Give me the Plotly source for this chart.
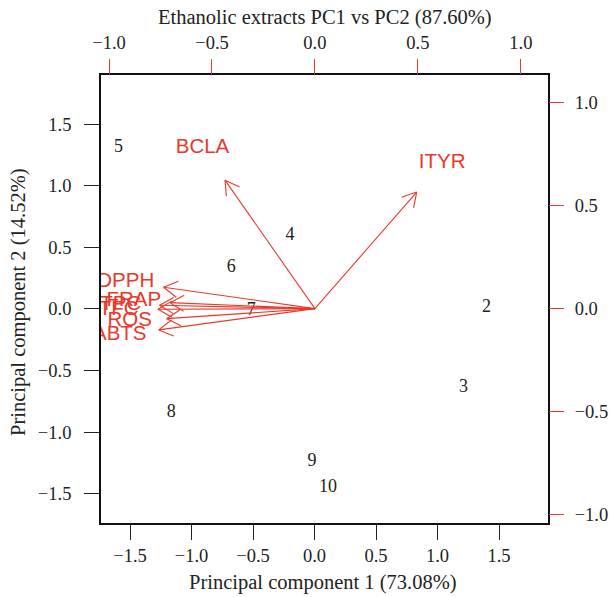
import numpy as np
import plotly.graph_objects as go

# ---- data ----
samples = ["2", "3", "4", "5", "6", "7", "8", "9", "10"]
pc1_scores = [1.399, 1.212, -0.199, -1.594, -0.677, -0.515, -1.164, -0.020, 0.109]
pc2_scores = [0.012, -0.637, 0.596, 1.310, 0.337, -0.012, -0.839, -1.237, -1.448]

variables = ["BCLA", "ITYR", "DPPH", "FRAP", "TPC", "TFC", "ROS", "ABTS"]
load_pc1 = [-0.546, 0.618, -0.919, -0.880, -0.943, -0.953, -0.900, -0.948]
load_pc2 = [0.778, 0.706, 0.129, 0.036, 0.020, -0.004, -0.061, -0.129]

score_ticks = [-1.5, -1.0, -0.5, 0.0, 0.5, 1.0, 1.5]
load_ticks = [-1.0, -0.5, 0.0, 0.5, 1.0]

title_text = "Ethanolic extracts PC1 vs PC2 (87.60%)"
xtitle_text = "Principal component 1 (73.08%)"
ytitle_text = "Principal component 2 (14.52%)"

# ---- style ----
RED = "#E8392A"
SERIF = "Liberation Serif, Times New Roman, serif"
SANS = "Liberation Sans, Arial, sans-serif"
score_range = [-1.736, 1.898]
load_range = [-1.039, 1.132]

# arrows: shaft to 0.8*loading, label at loading (R biplot convention)
shaft_x, shaft_y = [], []
head_len = 0.078
ang = np.deg2rad(30)
for lx, ly in zip(load_pc1, load_pc2):
    tx, ty = 0.8 * lx, 0.8 * ly
    shaft_x += [0, tx, None]
    shaft_y += [0, ty, None]
    n = np.hypot(tx, ty)
    bx, by = -tx / n, -ty / n
    for s in (1, -1):
        c, sn = np.cos(s * ang), np.sin(s * ang)
        rx = bx * c - by * sn
        ry = bx * sn + by * c
        shaft_x += [tx, tx + head_len * rx, None]
        shaft_y += [ty, ty + head_len * ry, None]

fig = go.Figure()

fig.add_trace(go.Scatter(
    x=pc1_scores, y=pc2_scores, mode="text", text=samples,
    textposition="middle center",
    textfont=dict(family=SERIF, size=18, color="#222222"),
    xaxis="x", yaxis="y", hoverinfo="skip", showlegend=False,
))

fig.add_trace(go.Scatter(
    x=shaft_x, y=shaft_y, mode="lines",
    line=dict(color=RED, width=1.1),
    xaxis="x2", yaxis="y2", hoverinfo="skip", showlegend=False,
))

fig.add_trace(go.Scatter(
    x=load_pc1, y=load_pc2, mode="text", text=variables,
    textposition="middle center",
    textfont=dict(family=SANS, size=20.5, color=RED),
    xaxis="x2", yaxis="y2", hoverinfo="skip", showlegend=False,
))

common = dict(showgrid=False, zeroline=False, ticks="outside", ticklen=15,
              tickwidth=1.3, tickformat=".1f", automargin=False,
              tickfont=dict(family=SERIF, size=18.5, color="#222222"))

fig.update_layout(
    width=609, height=597,
    margin=dict(l=101, r=61, t=75, b=74),
    paper_bgcolor="white", plot_bgcolor="white",
    xaxis=dict(range=score_range, tickvals=score_ticks, tickcolor="#222222",
               showline=True, mirror=True, linecolor="#111111", linewidth=1.8,
               ticklabelstandoff=0, **common),
    yaxis=dict(range=score_range, tickvals=score_ticks, tickcolor="#222222",
               showline=True, mirror=True, linecolor="#111111", linewidth=1.8,
               ticklabelstandoff=9, **common),
    xaxis2=dict(range=load_range, tickvals=load_ticks, tickcolor=RED,
                overlaying="x", side="top", anchor="y", showline=False,
                ticklabelstandoff=3, **common),
    yaxis2=dict(range=load_range, tickvals=load_ticks, tickcolor=RED,
                overlaying="y", side="right", anchor="x", showline=False,
                ticklabelstandoff=7, **common),
    annotations=[
        dict(text=title_text, x=0.5, y=1.129, xref="paper", yref="paper",
             showarrow=False, xanchor="center", yanchor="middle",
             font=dict(family=SERIF, size=20.5, color="#222222")),
        dict(text=xtitle_text, x=0.496, y=-0.133, xref="paper", yref="paper",
             showarrow=False, xanchor="center", yanchor="middle",
             font=dict(family=SERIF, size=20.5, color="#222222")),
        dict(text=ytitle_text, x=-0.186, y=0.493, xref="paper", yref="paper",
             showarrow=False, xanchor="center", yanchor="middle", textangle=-90,
             font=dict(family=SERIF, size=20.5, color="#222222")),
    ],
)

fig.write_html("out.html")
